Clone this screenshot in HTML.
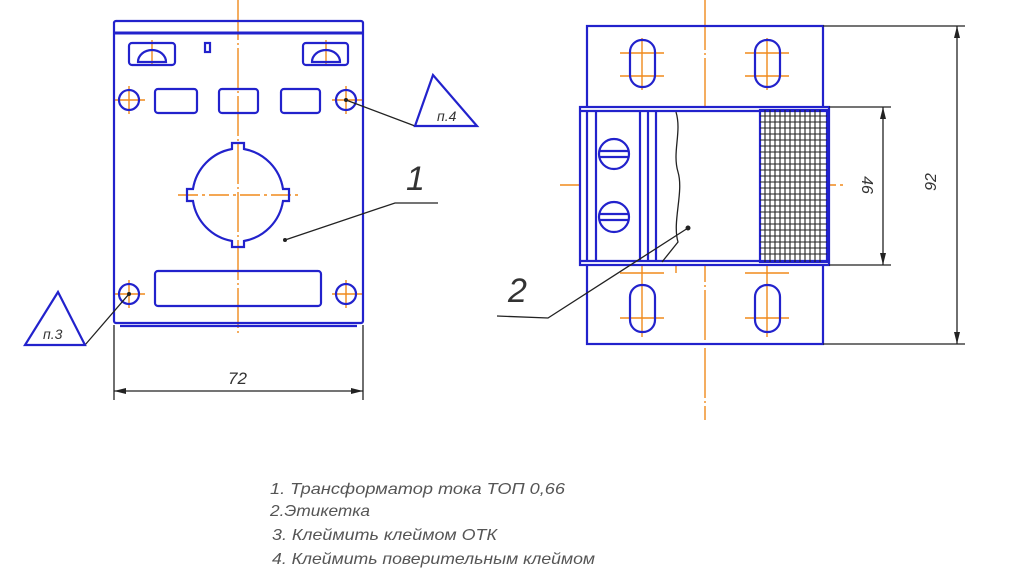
<!DOCTYPE html><html><head><style>body{margin:0;background:#fff}svg{display:block}</style></head><body>
<svg width="1033" height="587" viewBox="0 0 1033 587" xmlns="http://www.w3.org/2000/svg" font-family="Liberation Sans, sans-serif">
<g stroke="#f08a1c" stroke-width="1.4" fill="none">
<line x1="238" y1="0" x2="238" y2="335" stroke-dasharray="40,3,2,3"/>
<line x1="178" y1="195" x2="300" y2="195" stroke-dasharray="20,4,3,4"/>
<path d="M115 100h30M129 86v28M332 100h30M346 86v28M115 294h30M129 280v28M332 294h30M346 280v28M152 40v25M326 40v25"/>
<line x1="705" y1="0" x2="705" y2="420" stroke-dasharray="50,3,2,3"/>
<line x1="560" y1="185" x2="845" y2="185" stroke-dasharray="30,4,3,4"/>
<path d="M620 53h44M620 76h44M642 38v52M745 53h44M745 76h44M767 38v52M620 273h44M620 318h44M642 265v72M745 273h44M745 318h44M767 265v72M665 258h30M676 248v25"/>
</g>
<g stroke="#2222cc" stroke-width="2.2" fill="none">
<rect x="114" y="21" width="249" height="302" rx="2"/>
<line x1="114" y1="33" x2="363" y2="33" stroke-width="3"/>
<line x1="120" y1="326" x2="357" y2="326"/>
<rect x="129" y="43" width="46" height="22" rx="3"/><path d="M138 62a14 12 0 0 1 28 0z"/>
<rect x="303" y="43" width="45" height="22" rx="3"/><path d="M312 62a14 12 0 0 1 28 0z"/>
<rect x="205" y="43" width="5" height="9"/>
<circle cx="129" cy="100" r="10"/><circle cx="346" cy="100" r="10"/>
<circle cx="129" cy="294" r="10"/><circle cx="346" cy="294" r="10"/>
<rect x="155" y="89" width="42" height="24" rx="3"/><rect x="219" y="89" width="39" height="24" rx="3"/><rect x="281" y="89" width="39" height="24" rx="3"/>
<rect x="155" y="271" width="166" height="35" rx="3"/>
<path d="M232 143h12v6a48 48 0 0 1 39 40h6v12h-6a48 48 0 0 1-39 40v6h-12v-6a48 48 0 0 1-39-40h-6v-12h6a48 48 0 0 1 39-40z"/>
<rect x="587" y="26" width="236" height="318"/>
<rect x="580" y="107" width="249" height="158" fill="#fff"/>
<line x1="580" y1="111" x2="829" y2="111"/><line x1="580" y1="261" x2="829" y2="261"/>
<path d="M587 111v150M596 111v150M640 111v150M648 111v150M656 111v150"/>
<circle cx="614" cy="154" r="15"/><path d="M599 151h30M599 157h30"/>
<circle cx="614" cy="217" r="15"/><path d="M599 214h30M599 220h30"/>
<rect x="630" y="40" width="25" height="47" rx="12"/><rect x="755" y="40" width="25" height="47" rx="12"/>
<rect x="630" y="285" width="25" height="47" rx="12"/><rect x="755" y="285" width="25" height="47" rx="12"/>
<rect x="760" y="110" width="67" height="152"/>
</g>
<g stroke="#222" stroke-width="1.1">
<path d="M765 110v152M770 110v152M775 110v152M780 110v152M785 110v152M790 110v152M795 110v152M800 110v152M805 110v152M810 110v152M815 110v152M820 110v152"/>
<path d="M760 116h67M760 122h67M760 128h67M760 134h67M760 140h67M760 146h67M760 152h67M760 158h67M760 164h67M760 170h67M760 176h67M760 182h67M760 188h67M760 194h67M760 200h67M760 206h67M760 212h67M760 218h67M760 224h67M760 230h67M760 236h67M760 242h67M760 248h67M760 254h67"/>
</g>
<g stroke="#222" stroke-width="1.3" fill="none">
<path d="M676 112c6 20-4 40 2 60s-6 50 0 70l-16 20"/>
<path d="M114 325v75M363 325v75M114 391h249"/>
<path d="M829 107h62M829 265h62M883 107v158M823 26h142M823 344h142M957 26v318"/>
<path d="M346 100L415 126M129 294L85 345M285 240L395 203H438M497 316L548 318L688 228"/>
<path d="M433 75L415 126H477Z M58 292L25 345H85Z" stroke="#2222cc" stroke-width="2.2"/>
</g>
<g fill="#222">
<path d="M114 391l12-3v6zM363 391l-12-3v6zM883 107l-3 12h6zM883 265l-3-12h6zM957 26l-3 12h6zM957 344l-3-12h6z"/>
<circle cx="285" cy="240" r="2"/><circle cx="688" cy="228" r="2.5"/><circle cx="346" cy="100" r="2"/><circle cx="129" cy="294" r="2"/>
</g>
<g fill="#333" font-style="italic">
<text x="228" y="384" font-size="17">72</text>
<text x="437" y="121" font-size="14">п.4</text>
<text x="43" y="339" font-size="14">п.3</text>
<text x="406" y="190" font-size="34">1</text>
<text x="508" y="302" font-size="34">2</text>
<text transform="translate(862,185) rotate(90)" font-size="16" text-anchor="middle">46</text>
<text transform="translate(936,182) rotate(-90)" font-size="16" text-anchor="middle">92</text>
<g font-size="16" fill="#555">
<text x="270" y="494" textLength="295" lengthAdjust="spacingAndGlyphs">1. Трансформатор тока ТОП 0,66</text>
<text x="270" y="516" textLength="100" lengthAdjust="spacingAndGlyphs">2.Этикетка</text>
<text x="272" y="540" textLength="225" lengthAdjust="spacingAndGlyphs">3. Клеймить клеймом ОТК</text>
<text x="272" y="564" textLength="323" lengthAdjust="spacingAndGlyphs">4. Клеймить поверительным клеймом</text>
</g></g>
</svg></body></html>
